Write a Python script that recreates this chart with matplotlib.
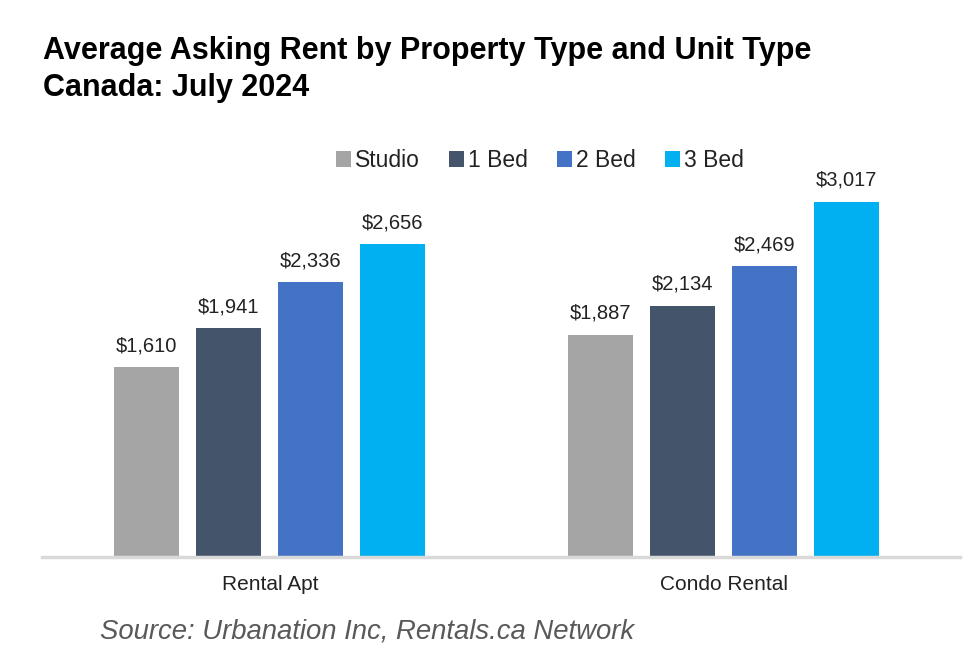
import matplotlib
matplotlib.use("Agg")
import matplotlib.pyplot as plt
import numpy as np

categories = ["Rental Apt", "Condo Rental"]
unit_types = ["Studio", "1 Bed", "2 Bed", "3 Bed"]
values = {
    "Studio": [1610, 1887],
    "1 Bed": [1941, 2134],
    "2 Bed": [2336, 2469],
    "3 Bed": [2656, 3017],
}
colors = ["#A5A5A5", "#44546A", "#4472C4", "#00B0F0"]
title = "Average Asking Rent by Property Type and Unit Type\nCanada: July 2024"
source = "Source: Urbanation Inc, Rentals.ca Network"

plt.rcParams['font.family'] = ['Liberation Sans', 'DejaVu Sans']

W, H = 980, 665
fig = plt.figure(figsize=(W / 100, H / 100), dpi=100)
ax_left, ax_right, ax_bottom, ax_top = 42, 960, 557, 120
ax = fig.add_axes([ax_left / W, (H - ax_bottom) / H, (ax_right - ax_left) / W, (ax_bottom - ax_top) / H])

x = np.arange(len(categories))
step = 0.1806
width = 0.143
for i, (ut, c) in enumerate(zip(unit_types, colors)):
    offs = (i - 1.5) * step
    bars = ax.bar(x + offs, values[ut], width=width, color=c, label=ut, zorder=2)
    for b, v in zip(bars, values[ut]):
        ax.text(b.get_x() + b.get_width() / 2, v + 100, f"${v:,}", ha="center", va="bottom",
                fontsize=14.5, color="#222222")

ax.set_xlim(-0.502, 1.52)
ax.set_ylim(0, 437 / 0.1178)
for s in ["top", "right", "left"]:
    ax.spines[s].set_visible(False)
ax.spines["bottom"].set_color("#D9D9D9")
ax.spines["bottom"].set_linewidth(2.5)
ax.set_yticks([])
ax.set_xticks(x)
ax.set_xticklabels(categories, fontsize=15, color="#222222")
ax.tick_params(axis="x", length=0, pad=13)

leg = ax.legend(loc="upper center", bbox_to_anchor=((540 - 42) / 918, (557 - 140) / 437), ncol=4, frameon=False,
                fontsize=16.5, handlelength=0.65, handleheight=0.65, handletextpad=0.2, columnspacing=1.25,
                borderaxespad=0)
for t in leg.get_texts():
    t.set_color("#222222")

fig.text(43 / W, 1 - 36 / H, title, ha="left", va="top", fontsize=22, fontweight="bold",
         color="#000000", linespacing=1.3)
fig.text(100 / W, 1 - 632 / H, source, ha="left", va="center", fontsize=19.8, style="italic",
         color="#595959")

fig.savefig("out.png", dpi=100)
